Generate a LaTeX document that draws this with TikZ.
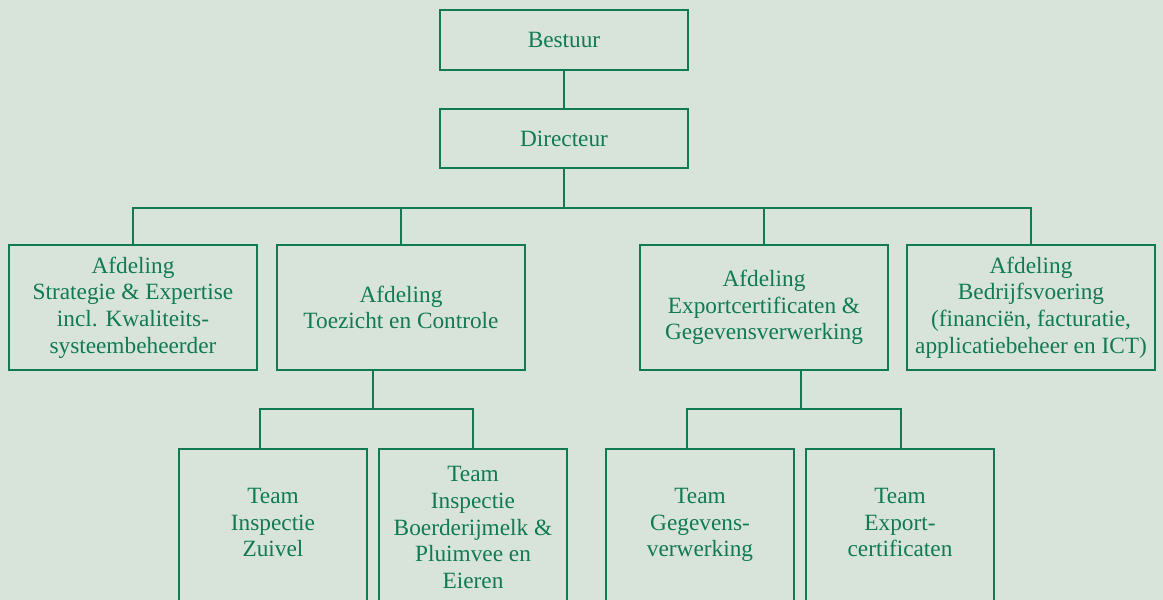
\documentclass[tikz,border=0pt]{standalone}
\usepackage{fontspec}
\setmainfont{Liberation Serif}
\definecolor{bgc}{HTML}{D8E3DA}
\definecolor{grn}{HTML}{107A55}
\begin{document}
\begin{tikzpicture}[x=1pt,y=-1pt,
  orgbox/.style={draw=grn,line width=1.6pt,text=grn,align=center,inner sep=0pt,
    font=\fontsize{23.3}{26.6}\selectfont},
  lvlone/.style={orgbox,minimum width=248pt,minimum height=60pt},
  lvltwo/.style={orgbox,minimum width=248pt,minimum height=125pt},
  lvlthree/.style={orgbox,minimum width=188pt,minimum height=153pt},
  conn/.style={draw=grn,line width=1.6pt}]
\fill[bgc] (0,0) rectangle (1163,600);
\useasboundingbox (0,0) rectangle (1163,600);
\clip (0,0) rectangle (1163,600);
\node[lvlone] (bestuur) at (564,40) {Bestuur};
\node[lvlone,minimum height=59pt] (dir) at (564,138.5) {Directeur};
\node[lvltwo] (a1) at (133,307.5) {Afdeling\\Strategie \& Expertise\\incl. Kwaliteits-\\systeembeheerder};
\node[lvltwo] (a2) at (401,307.5) {Afdeling\\Toezicht en Controle};
\node[lvltwo] (a3) at (764,307.5) {Afdeling\\Exportcertificaten \&\\Gegevensverwerking};
\node[lvltwo] (a4) at (1031,307.5) {Afdeling\\Bedrijfsvoering\\(financiën, facturatie,\\applicatiebeheer en ICT)};
\node[lvlthree,text depth=6pt] (t1) at (273,525.5) {Team\\Inspectie\\Zuivel};
\node[lvlthree,minimum height=157pt] (t2) at (473,527.5) {Team\\Inspectie\\Boerderijmelk \&\\Pluimvee en\\Eieren};
\node[lvlthree,text depth=6pt] (t3) at (700,525.5) {Team\\Gegevens-\\verwerking};
\node[lvlthree,text depth=6pt] (t4) at (900,525.5) {Team\\Export-\\certificaten};
\coordinate (bar) at (564,208);
\coordinate (d2) at (373,370);
\coordinate (bar2) at (373,409);
\coordinate (d3) at (801,370);
\coordinate (bar3) at (801,409);
\draw[conn] (bestuur.south) -- (dir.north);
\draw[conn] (dir.south) -- (bar);
\draw[conn] (bar) -| (a1.north);
\draw[conn] (bar) -| (a2.north);
\draw[conn] (bar) -| (a3.north);
\draw[conn] (bar) -| (a4.north);
\draw[conn] (d2) -- (bar2);
\draw[conn] (bar2) -| (t1.north -| 260,0);
\draw[conn] (bar2) -| (t2.north);
\draw[conn] (d3) -- (bar3);
\draw[conn] (bar3) -| (t3.north -| 687,0);
\draw[conn] (bar3) -| (t4.north -| 901,0);
\end{tikzpicture}
\end{document}
